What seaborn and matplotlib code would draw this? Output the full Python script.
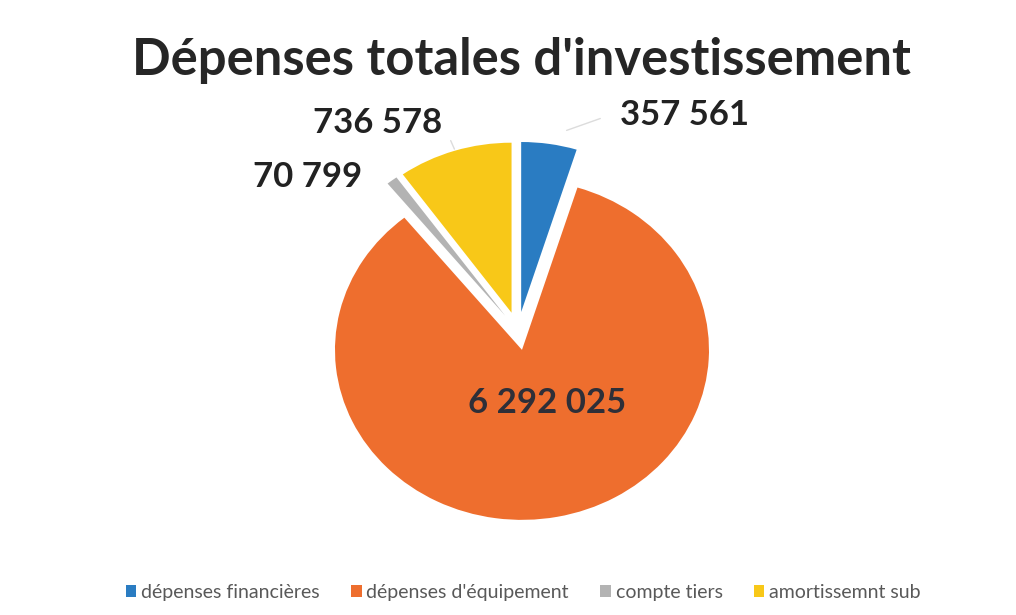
# Dépenses totales d'investissement - pie chart

import numpy as np
import seaborn as sns
import matplotlib.pyplot as plt

# data
categories = ["dépenses financières", "dépenses d'équipement", "compte tiers", "amortissemnt sub"]
values = [357561, 6292025, 70799, 736578]
value_labels = ["357 561", "6 292 025", "70 799", "736 578"]
colors = ["#2a7cc2", "#ee6e2e", "#b3b3b3", "#f8c818"]

# label placement (data units of the pie)
label_pos = [(0.893, 1.27), (0.155, -0.424), (-1.128, 0.906), (-0.749, 1.224)]

sns.set_theme(style="white")
plt.rcParams["font.family"] = ["Lato", "DejaVu Sans"]

fig = plt.figure(figsize=(10.16, 6.15), dpi=100)
ax = fig.add_axes([0, 0, 1, 1])

wedges, _ = ax.pie(
    values,
    colors=colors,
    startangle=90,
    counterclock=False,
    explode=[0.113] * 4,
    wedgeprops=dict(linewidth=0),
)

ax.set_aspect("auto")
ax.set_xlim(-518 / 187, (1016 - 518) / 187)
ax.set_ylim(-284 / 170, 331 / 170)
ax.axis("off")

# value labels
for i, (txt, pos) in enumerate(zip(value_labels, label_pos)):
    col = "#2e2f38" if i == 1 else "#222222"
    ax.text(pos[0], pos[1], txt, ha="center", va="center",
            fontsize=25, fontweight="bold", color=col)

# faint leader lines
ax.plot([0.26, 0.44], [1.18, 1.25], color="#dcdcdc", lw=1)
ax.plot([-0.36, -0.34], [1.12, 1.07], color="#dcdcdc", lw=1)

fig.text(0.513, 0.902, "Dépenses totales d'investissement", ha="center", va="center",
         fontsize=36.5, fontweight="bold", color="#262626")

fig.legend(wedges, categories, loc="center", bbox_to_anchor=(0.515, 0.037),
           ncol=4, frameon=False, fontsize=14, labelcolor="#595959",
           handlelength=0.55, handleheight=0.55, handletextpad=0.25,
           columnspacing=1.6)

plt.savefig("out.png", dpi=100, facecolor="white")
